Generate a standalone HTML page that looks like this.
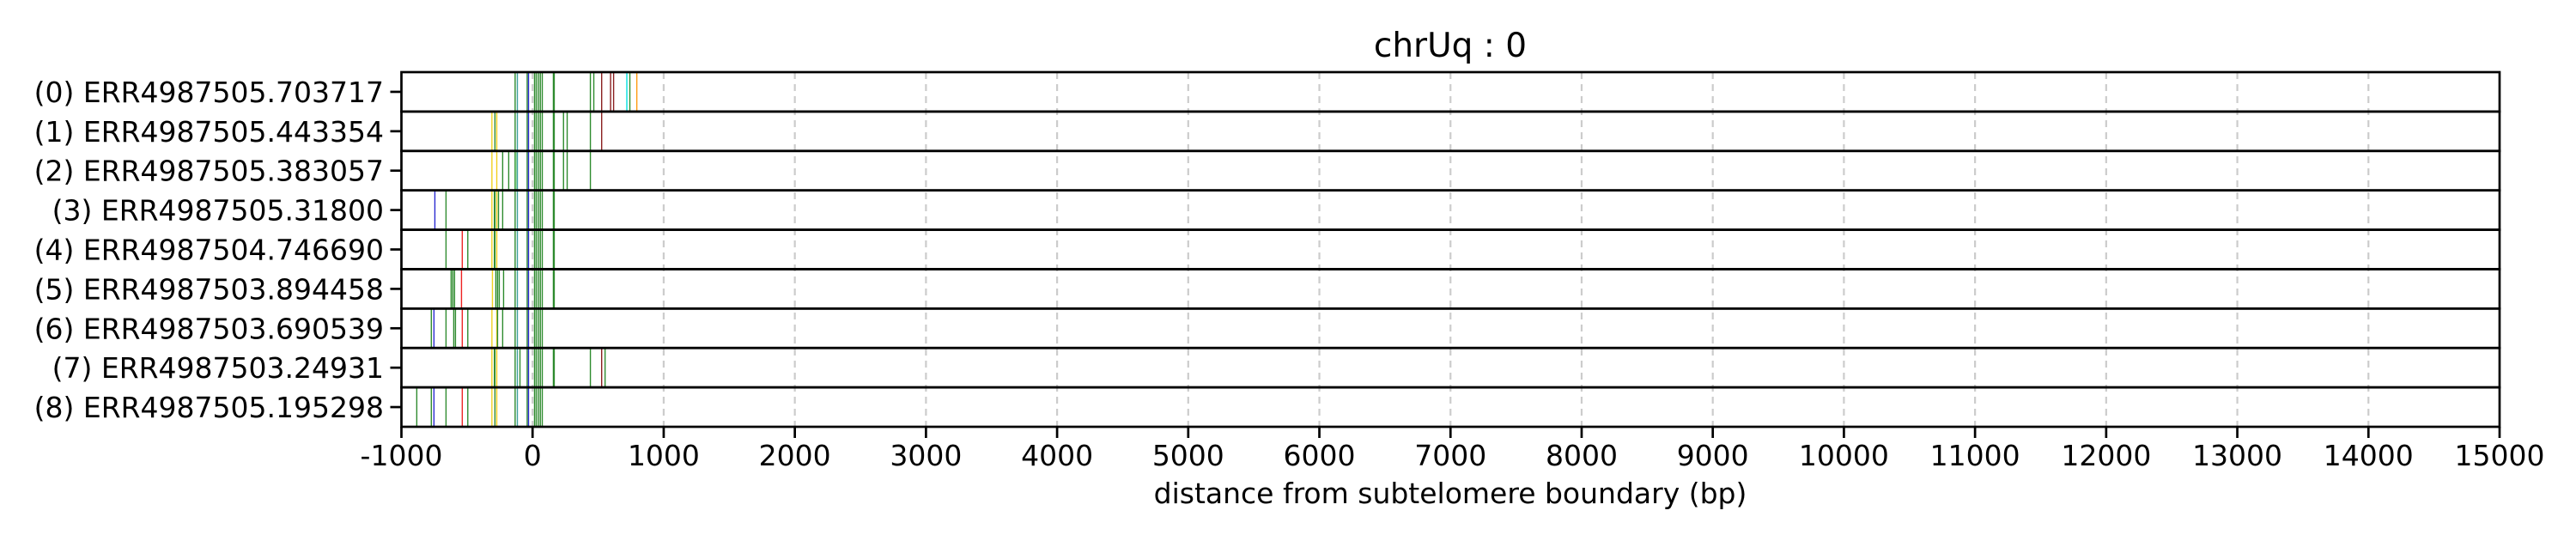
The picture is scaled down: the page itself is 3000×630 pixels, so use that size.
<!DOCTYPE html>
<html><head><meta charset="utf-8"><style>
html,body{margin:0;padding:0;background:#fff;}
svg{display:block;font-family:"DejaVu Sans","Liberation Sans",sans-serif;}
</style></head><body>
<svg id="chart" width="3000" height="630" viewBox="0 0 3000 630" xmlns="http://www.w3.org/2000/svg">
<text x="1689" y="66" font-size="39" text-anchor="middle">chrUq : 0</text>
<text x="1689" y="586" font-size="33" text-anchor="middle">distance from subtelomere boundary (bp)</text>
<g id="grid"></g>
<g id="marks"></g>
<g id="frames"></g>
<g id="ylab"></g>
<g id="xax"></g>
</svg>
<script>
const rowLabels = ["(0) ERR4987505.703717","(1) ERR4987505.443354","(2) ERR4987505.383057","(3) ERR4987505.31800","(4) ERR4987504.746690","(5) ERR4987503.894458","(6) ERR4987503.690539","(7) ERR4987503.24931","(8) ERR4987505.195298"];
const xTicks = [-1000,0,1000,2000,3000,4000,5000,6000,7000,8000,9000,10000,11000,12000,13000,14000,15000];
const colorMap = {g:"#2e8b2e", t:"#3f9f9f", b:"#2a2ad0", y:"#f2d020", r:"#ee2222", br:"#8b2020", c:"#00e0e0", o:"#ff9a10", lg:"#7acc7a"};
const core = [[-133,"g"],[-116,"t"],[-41,"g"],[-31,"b"],[15,"g"],[28,"g"],[44,"g"],[59,"g"],[74,"g"]];
const row0 = [[162,"g"],[441,"g"],[467,"g"],[527,"br"],[595,"br"],[618,"br"],[719,"c"],[742,"g"],[795,"o"]];
const row1 = [[-310,"y"],[-287,"g"],[-273,"y"],[162,"g"],[236,"g"],[264,"g"],[441,"g"],[527,"br"]];
const row2 = [[-310,"y"],[-273,"y"],[-228,"g"],[-182,"g"],[-127,"lg"],[162,"g"],[236,"g"],[264,"g"],[441,"g"]];
const row3 = [[-745,"b"],[-660,"g"],[-310,"y"],[-291,"g"],[-287,"g"],[-273,"y"],[-260,"g"],[-228,"g"],[162,"g"]];
const row4 = [[-660,"g"],[-536,"r"],[-494,"g"],[-310,"y"],[-291,"g"],[-287,"g"],[-273,"y"],[162,"g"]];
const row5 = [[-621,"g"],[-608,"g"],[-595,"g"],[-542,"r"],[-306,"y"],[-280,"g"],[-267,"g"],[-254,"g"],[-221,"g"],[162,"g"]];
const row6 = [[-772,"g"],[-752,"b"],[-660,"g"],[-601,"g"],[-588,"g"],[-536,"r"],[-494,"g"],[-310,"y"],[-273,"y"],[-267,"g"],[-228,"g"]];
const row7 = [[-310,"y"],[-291,"g"],[-287,"g"],[-273,"y"],[-96,"g"],[162,"g"],[441,"g"],[527,"br"],[553,"g"]];
const row8 = [[-883,"g"],[-772,"g"],[-752,"b"],[-660,"g"],[-536,"r"],[-494,"g"],[-310,"y"],[-287,"g"],[-273,"y"]];
const rowsData = [row0,row1,row2,row3,row4,row5,row6,row7,row8];

const NS="http://www.w3.org/2000/svg";
const L=467.5, R=2911, TOP=84, BOT=497, XMIN=-1000, XMAX=15000;
const rowH=(BOT-TOP)/rowLabels.length;
function xs(v){return L+(v-XMIN)/(XMAX-XMIN)*(R-L);}
function mk(tag,attrs,parent){const e=document.createElementNS(NS,tag);for(const k in attrs)e.setAttribute(k,attrs[k]);parent.appendChild(e);return e;}
const grid=document.getElementById('grid'),marks=document.getElementById('marks'),frames=document.getElementById('frames'),ylab=document.getElementById('ylab'),xax=document.getElementById('xax');
xTicks.forEach(t=>{
  if(t>XMIN&&t<XMAX){
    const gl=mk('line',{x1:xs(t),x2:xs(t),y1:TOP,y2:BOT,stroke:"#cccccc","stroke-width":2.2,"stroke-dasharray":"8,6"},grid);
    
    
  }
  const tk=mk('line',{x1:xs(t),x2:xs(t),y1:BOT,y2:BOT+13,stroke:"#000","stroke-width":2.7},xax);
  
  
  const tl=mk('text',{x:xs(t),y:542,"font-size":33,"text-anchor":"middle"},xax);
  tl.textContent=String(t);
  
  
});
rowLabels.forEach((lab,i)=>{
  const y0=TOP+i*rowH, y1=y0+rowH, yc=(y0+y1)/2;
  core.concat(rowsData[i]).forEach(m=>{
    const ln=mk('line',{x1:xs(m[0]),x2:xs(m[0]),y1:y0,y2:y1,stroke:colorMap[m[1]],"stroke-width":m[0]===162?2.4:1.4},marks);
    
    
  });
  const fr=mk('rect',{x:L,y:y0,width:R-L,height:rowH,fill:"none",stroke:"#000","stroke-width":2.7},frames);
  
  
  const yt=mk('line',{x1:L-13,x2:L,y1:yc,y2:yc,stroke:"#000","stroke-width":2.7},ylab);
  
  
  const tx=mk('text',{x:447,y:yc+12,"font-size":33,"text-anchor":"end"},ylab);
  tx.textContent=lab;
  
  
});
</script>
</body></html>
